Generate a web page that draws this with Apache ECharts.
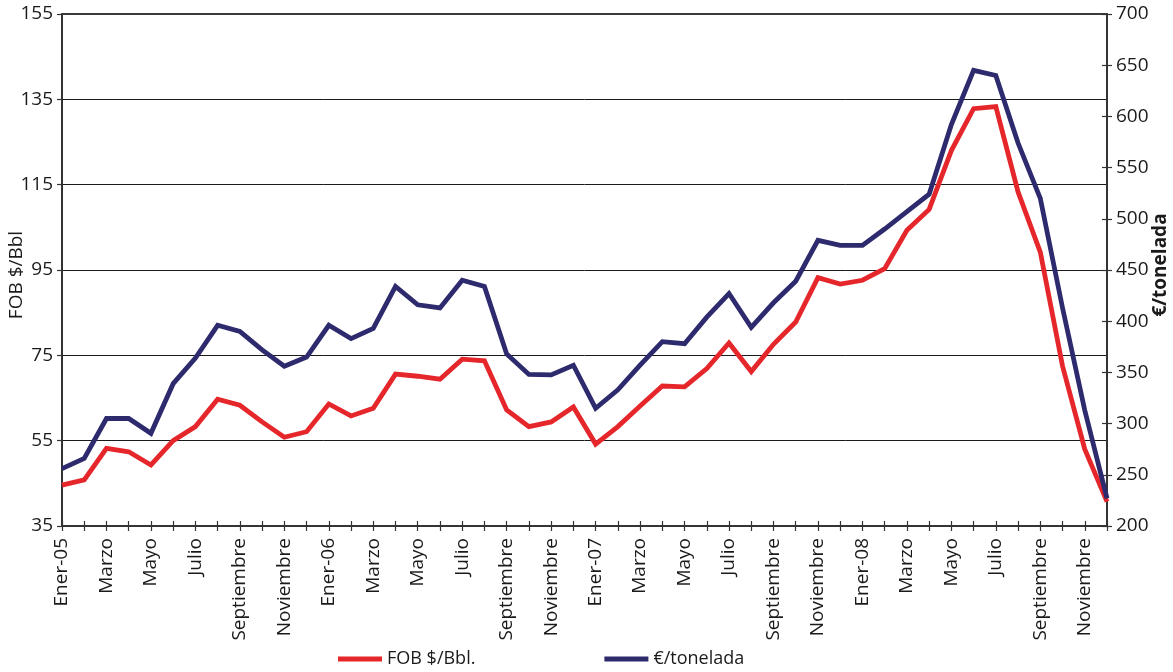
<!DOCTYPE html>
<html>
<head>
<meta charset="utf-8">
<style>
  html, body { margin: 0; padding: 0; background: #fff; }
  #chart { width: 1173px; height: 672px; }
</style>
<script src="https://cdn.jsdelivr.net/npm/echarts@6/dist/echarts.min.js"></script>
</head>
<body>
<div id="chart"></div>
<script>
// Months January 2005 – December 2008
const months = [
  'Ener-05','Febrero','Marzo','Abril','Mayo','Junio','Julio','Agosto','Septiembre','Octubre','Noviembre','Diciembre',
  'Ener-06','Febrero','Marzo','Abril','Mayo','Junio','Julio','Agosto','Septiembre','Octubre','Noviembre','Diciembre',
  'Ener-07','Febrero','Marzo','Abril','Mayo','Junio','Julio','Agosto','Septiembre','Octubre','Noviembre','Diciembre',
  'Ener-08','Febrero','Marzo','Abril','Mayo','Junio','Julio','Agosto','Septiembre','Octubre','Noviembre','Diciembre'
];

// FOB price, $/barrel
const fobUsdBbl = [
  44.6, 45.8, 53.2, 52.4, 49.3, 55.0, 58.3, 64.7, 63.3, 59.4, 55.8, 57.1,
  63.6, 60.8, 62.6, 70.6, 70.1, 69.4, 74.1, 73.7, 62.2, 58.3, 59.4, 62.9,
  54.2, 58.3, 63.1, 67.8, 67.6, 71.9, 77.9, 71.2, 77.6, 82.8, 93.2, 91.7,
  92.6, 95.3, 104.3, 109.2, 123.0, 132.8, 133.3, 113.3, 99.2, 72.5, 53.0, 40.7
];

// Price in euros per tonne
const eurTonelada = [
  256, 266, 305, 305, 290.5, 339, 364, 396, 390, 372, 356, 365,
  396, 383, 393, 434, 416, 413, 440, 434, 368, 348, 347.5, 357,
  315, 333, 357, 380, 378, 404, 427, 394, 418, 439, 479, 474,
  474, 490, 507, 524, 592, 645, 640, 574, 520, 413, 313, 227
];

// Axis ranges / ticks
const leftAxis = { min: 35, max: 155, step: 20 };
const rightAxis = { min: 200, max: 700, step: 50 };

const FONT = '"Open Sans", "Noto Sans", sans-serif';
const TEXT = '#1a1a1a';
const AXIS = '#333333';

const chart = echarts.init(document.getElementById('chart'), null, { renderer: 'canvas' });

chart.setOption({
  animation: false,
  backgroundColor: '#ffffff',
  grid: { left: 62, right: 66, top: 14, bottom: 146, containLabel: false, outerBoundsMode: 'none' },
  legend: {
    left: 333,
    top: 645,
    itemWidth: 44,
    itemHeight: 5,
    itemGap: 129,
    icon: 'rect',
    textStyle: { fontFamily: FONT, fontSize: 18, color: TEXT },
    data: ['FOB $/Bbl.', '€/tonelada']
  },
  graphic: [
    {
      type: 'text',
      x: 17,
      y: 275,
      rotation: Math.PI / 2,
      style: {
        text: 'FOB $/Bbl',
        font: '19px "Open Sans", "Noto Sans", sans-serif',
        fill: TEXT,
        textAlign: 'center',
        textVerticalAlign: 'middle'
      }
    },
    {
      type: 'text',
      x: 1161,
      y: 265,
      rotation: Math.PI / 2,
      style: {
        text: '€/tonelada',
        font: 'bold 19px "Open Sans", "Noto Sans", sans-serif',
        fill: TEXT,
        textAlign: 'center',
        textVerticalAlign: 'middle'
      }
    }
  ],
  xAxis: [
    {
      type: 'category',
      data: months,
      boundaryGap: false,
      position: 'bottom',
      axisLine: { lineStyle: { color: AXIS, width: 2 } },
      axisTick: { show: true, interval: 0, length: 5, lineStyle: { color: AXIS, width: 1.2 } },
      axisLabel: {
        interval: 1,
        rotate: 90,
        margin: 12,
        fontFamily: FONT,
        fontSize: 19,
        color: TEXT
      },
      splitLine: { show: false }
    },
    {
      // inner half of the crossing ticks on the category axis
      type: 'category',
      data: months,
      boundaryGap: false,
      position: 'bottom',
      axisLine: { show: false },
      axisTick: { show: true, inside: true, interval: 0, length: 5, lineStyle: { color: AXIS, width: 1.2 } },
      axisLabel: { show: false },
      splitLine: { show: false }
    },
    {
      // top border of the plot
      type: 'category',
      data: months,
      boundaryGap: false,
      position: 'top',
      axisLine: { show: true, lineStyle: { color: '#3a3a3a', width: 2 } },
      axisTick: { show: false },
      axisLabel: { show: false },
      splitLine: { show: false }
    }
  ],
  yAxis: [
    {
      type: 'value',
      position: 'left',
      min: leftAxis.min,
      max: leftAxis.max,
      interval: leftAxis.step,
      axisLine: { show: true, lineStyle: { color: AXIS, width: 2 } },
      axisTick: { show: true, length: 5, lineStyle: { color: AXIS, width: 1.2 } },
      axisLabel: { margin: 9, fontFamily: FONT, fontSize: 19, color: TEXT },
      splitLine: { show: true, lineStyle: { color: '#1a1a1a', width: 1 } }
    },
    {
      type: 'value',
      position: 'right',
      min: rightAxis.min,
      max: rightAxis.max,
      interval: rightAxis.step,
      axisLine: { show: true, lineStyle: { color: AXIS, width: 2 } },
      axisTick: { show: true, length: 5, lineStyle: { color: AXIS, width: 1.2 } },
      axisLabel: { margin: 9, fontFamily: FONT, fontSize: 19, color: TEXT },
      splitLine: { show: false }
    },
    {
      // inner half of the crossing ticks on the right axis
      type: 'value',
      position: 'right',
      min: rightAxis.min,
      max: rightAxis.max,
      interval: rightAxis.step,
      axisLine: { show: false },
      axisTick: { show: true, inside: true, length: 5, lineStyle: { color: AXIS, width: 1.2 } },
      axisLabel: { show: false },
      splitLine: { show: false }
    }
  ],
  series: [
    {
      name: 'FOB $/Bbl.',
      type: 'line',
      xAxisIndex: 0,
      yAxisIndex: 0,
      data: fobUsdBbl,
      symbol: 'none',
      color: '#e5262b',
      lineStyle: { color: '#e5262b', width: 4.8, join: 'miter' },
      z: 3
    },
    {
      name: '€/tonelada',
      type: 'line',
      xAxisIndex: 0,
      yAxisIndex: 1,
      data: eurTonelada,
      symbol: 'none',
      color: '#2d2a6e',
      lineStyle: { color: '#2d2a6e', width: 4.8, join: 'miter' },
      z: 4
    }
  ]
});
</script>
</body>
</html>
